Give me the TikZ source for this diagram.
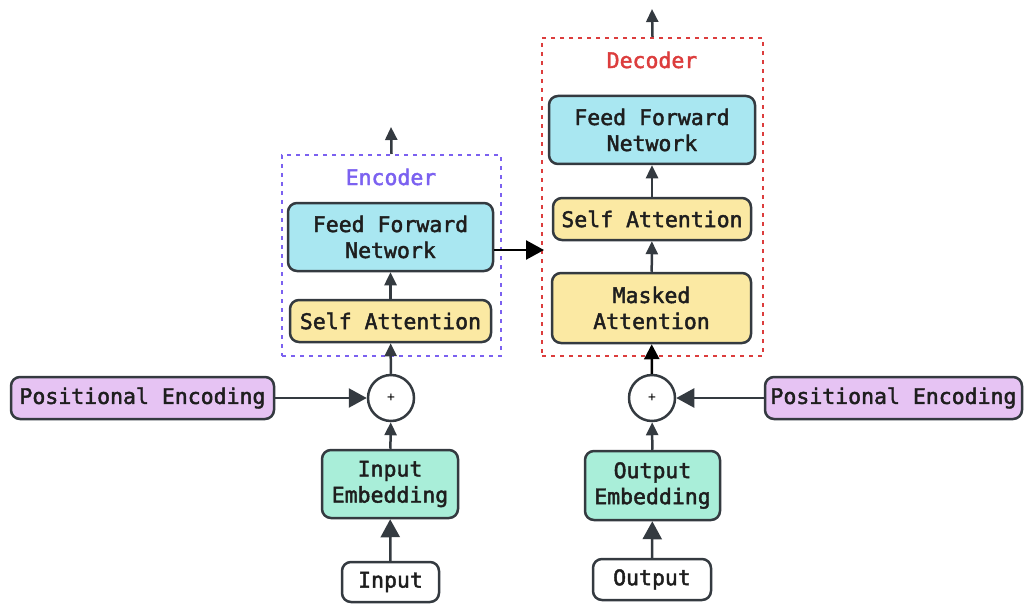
\documentclass[tikz,border=0pt]{standalone}
\usepackage{fontspec}
\setmonofont{DejaVu Sans Mono}[BoldFont=DejaVu Sans Mono, BoldFeatures={FakeBold=2}]
\usetikzlibrary{arrows.meta}

\definecolor{ink}{HTML}{343A40}
\definecolor{txt}{HTML}{1E1E1E}
\definecolor{pecol}{HTML}{E6C3F3}
\definecolor{embcol}{HTML}{A9EED9}
\definecolor{attcol}{HTML}{FBE9A3}
\definecolor{ffncol}{HTML}{A9E7F1}
\definecolor{enccol}{HTML}{7B61F0}
\definecolor{deccol}{HTML}{DC3D3D}

\tikzset{
  box/.style={draw=ink, line width=2.5pt, rounded corners=9pt, inner sep=0pt,
    align=center, text=txt, font=\fontsize{21.5}{26}\selectfont\ttfamily\bfseries},
  frame/.style={draw, line width=2pt, dash pattern=on 4pt off 5pt, inner sep=0pt},
  framelabel/.style={font=\fontsize{21.5}{26}\selectfont\ttfamily\bfseries},
  plus/.style={circle, draw=ink, line width=2.5pt, fill=white, minimum size=46pt,
    inner sep=0pt, font=\fontsize{13}{13}\selectfont\ttfamily},
  arr/.style={draw=ink, line width=2.5pt, -{Triangle[length=13pt,width=12pt]}},
  bigarr/.style={draw=ink, line width=2.5pt, -{Triangle[length=18pt,width=19pt]}}
}

\begin{document}
\begin{tikzpicture}[x=1pt,y=-1pt]
  \useasboundingbox (0,0) rectangle (1024,604);

  % encoder and decoder frames
  \node[frame, draw=enccol, minimum width=219pt, minimum height=201pt] (enc) at (391.5,255.5) {};
  \node[frame, draw=deccol, minimum width=221pt, minimum height=318pt] (dec) at (652.5,197) {};
  \node[framelabel, text=enccol] (enclabel) at (391,177) {Encoder};
  \node[framelabel, text=deccol] (declabel) at (652,60) {Decoder};

  \coordinate (top1)  at (391,127);
  \coordinate (top2)  at (652,9);
  \coordinate (cross) at (544,250);

  \begin{scope}[every node/.style={box}]
    \node[fill=pecol, minimum width=263pt, minimum height=42pt] (pe1) at (142.5,398) {Positional Encoding};
    \node[fill=white, minimum width=97pt, minimum height=40pt] (in) at (390.5,582) {Input};
    \node[fill=embcol, minimum width=136pt, minimum height=68pt] (emb1) at (390,484) {Input\\Embedding};
    \node[fill=attcol, minimum width=201pt, minimum height=42pt] (sa1) at (390.5,321) {Self Attention};
    \node[fill=ffncol, minimum width=205pt, minimum height=68pt] (ffn1) at (390.5,237) {Feed Forward\\Network};

    \node[fill=ffncol, minimum width=206pt, minimum height=68pt] (ffn2) at (652,130) {Feed Forward\\Network};
    \node[fill=attcol, minimum width=198pt, minimum height=42pt] (sa2) at (652,219) {Self Attention};
    \node[fill=attcol, minimum width=199pt, minimum height=70pt] (ma) at (651.5,308) {Masked\\Attention};
    \node[fill=pecol, minimum width=257pt, minimum height=42pt] (pe2) at (893.5,398) {Positional Encoding};
    \node[fill=embcol, minimum width=135pt, minimum height=69pt] (emb2) at (652.5,485.5) {Output\\Embedding};
    \node[fill=white, minimum width=118pt, minimum height=41pt] (out) at (652,579.5) {Output};
  \end{scope}

  \node[plus] (plus1) at (391,398) {+};
  \node[plus] (plus2) at (652,398) {+};

  % encoder side
  \draw[bigarr] (in) -- (emb1);
  \draw[arr] (emb1) -- (plus1);
  \draw[bigarr] (pe1) -- (plus1);
  \draw[arr] (plus1) -- (sa1);
  \draw[arr] (sa1) -- (ffn1);
  \draw[arr] (enc.north) -- (top1);
  \draw[bigarr, draw=black] (ffn1.east |- cross) -- (cross);

  % decoder side
  \draw[bigarr] (out) -- (emb2);
  \draw[arr] (emb2) -- (plus2);
  \draw[bigarr] (pe2) -- (plus2);
  \draw[arr, draw=black, -{Triangle[length=15pt,width=15pt]}] (plus2) -- (ma);
  \draw[arr] (ma) -- (sa2);
  \draw[arr] (sa2) -- (ffn2);
  \draw[arr] (dec.north) -- (top2);

\end{tikzpicture}
\end{document}
